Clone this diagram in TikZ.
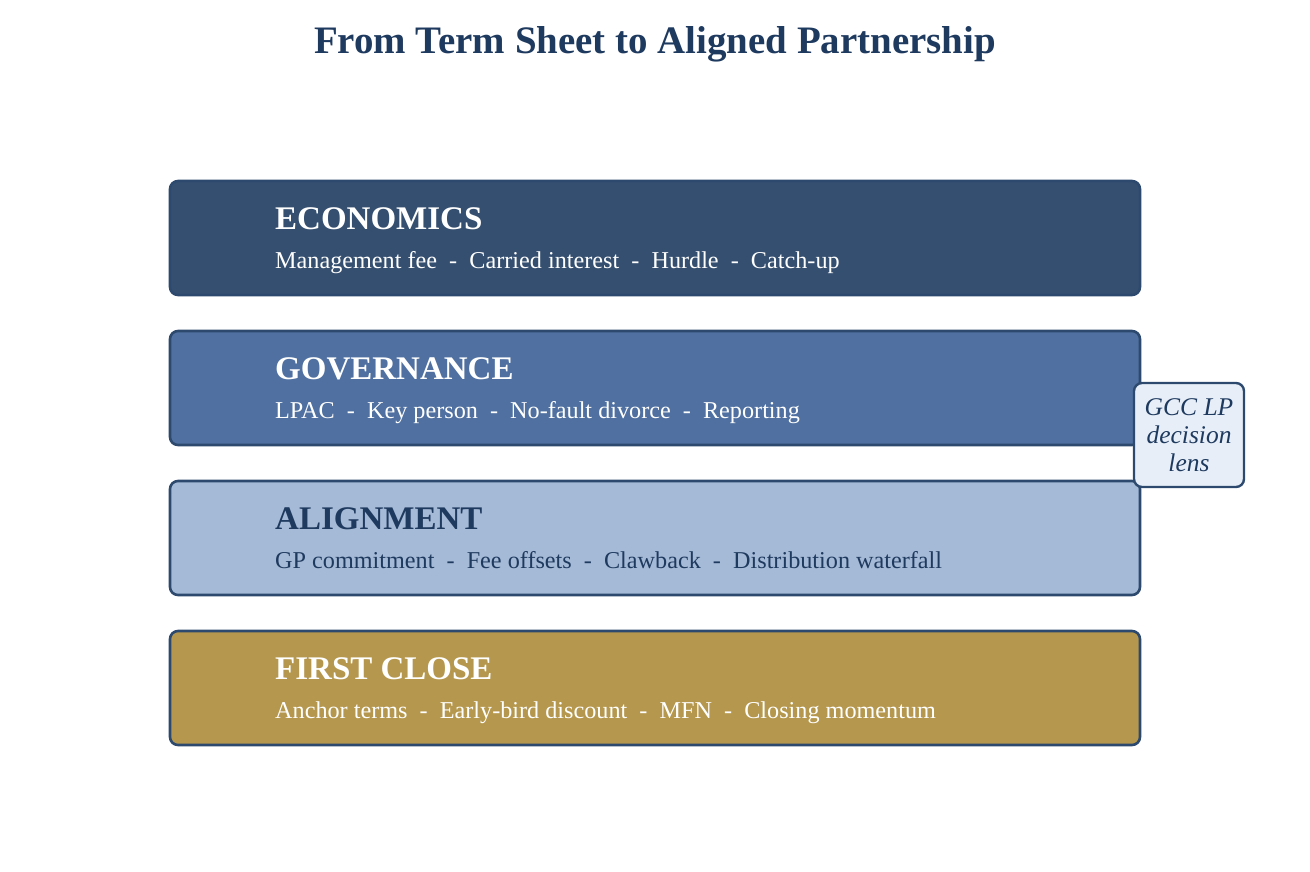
\documentclass[tikz,border=0pt]{standalone}
\usepackage{fontspec}
\setmainfont{Liberation Serif}
\definecolor{navy}{HTML}{1F3A5F}
\definecolor{edge}{HTML}{2D4A6E}
\definecolor{econfill}{HTML}{354F70}
\definecolor{govfill}{HTML}{4F70A0}
\definecolor{alignfill}{HTML}{A5BAD6}
\definecolor{closefill}{HTML}{B5974D}
\definecolor{lensfill}{HTML}{E7EEF7}
\begin{document}
\begin{tikzpicture}[x=1pt, y=-1pt, line join = round,
		band/.style={draw=edge, line width=2.6pt, rounded corners=8pt, minimum width=970pt, minimum height=114pt, inner sep=0pt},
		head/.style={anchor=base west, inner sep=0pt, font=\fontsize{33}{38}\selectfont\bfseries},
		items/.style={anchor=base west, inner sep=0pt, font=\fontsize{24.2}{28}\selectfont}]
	\useasboundingbox (0,0) rectangle (1310,871);
	\node[anchor=base, text=navy, font=\fontsize{38.9}{44}\selectfont\bfseries] (title) at (655,53) {From Term Sheet to Aligned Partnership};
	%\tikzset{band style/.style={draw}}
	\foreach \y/\nm/\col/\ink/\hd/\its in {
		181/econ/econfill/white/ECONOMICS/Management fee\ \ -\ \ Carried interest\ \ -\ \ Hurdle\ \ -\ \ Catch-up,
		331/gov/govfill/white/GOVERNANCE/LPAC\ \ -\ \ Key person\ \ -\ \ No-fault divorce\ \ -\ \ Reporting,
		481/align/alignfill/navy/ALIGNMENT/GP commitment\ \ -\ \ Fee offsets\ \ -\ \ Clawback\ \ -\ \ Distribution waterfall,
		631/close/closefill/white/FIRST CLOSE/Anchor terms\ \ -\ \ Early-bird discount\ \ -\ \ MFN\ \ -\ \ Closing momentum}{
		\node[band, fill=\col] (\nm) at (655,\y+57) {};
		\node[head, text=\ink] (\nm-head) at (275,\y+48) {\hd};
		\node[items, text=\ink] (\nm-items) at (275,\y+87) {\its};
	}
	\node[draw=edge, line width=2.4pt, fill=lensfill, rounded corners=8pt, minimum width=110pt, minimum height=104pt, inner sep=0pt,
		align=center, text=navy, font=\fontsize{25.5}{28}\selectfont\itshape] (lens) at (1189,435) {GCC LP\\decision\\lens};
\end{tikzpicture}
\end{document}
